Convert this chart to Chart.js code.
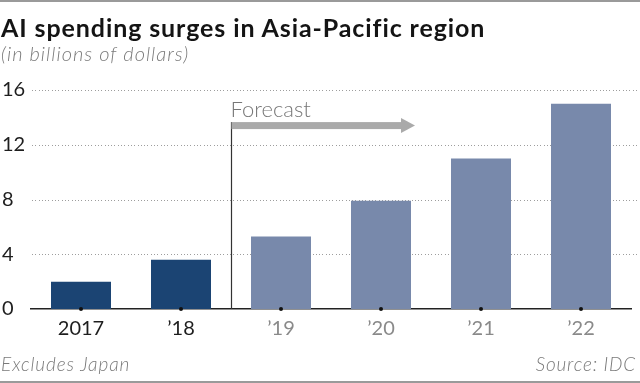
<!DOCTYPE html>
<html><head><meta charset="utf-8">
<script src="https://cdn.jsdelivr.net/npm/chart.js@4"></script>
<style>
html,body{margin:0;padding:0;background:#fff;}
#wrap{position:relative;width:640px;height:383px;overflow:hidden;font-family:Lato,"Open Sans",sans-serif;}
canvas{position:absolute;left:0;top:0;}
.t{position:absolute;white-space:nowrap;line-height:1.2;}
.rule{position:absolute;left:0;width:640px;height:2px;background:#9a9a9a;}
</style></head><body>
<div id="wrap">
<canvas id="c" width="640" height="383"></canvas>
<div class="rule" style="top:0"></div>
<div class="rule" style="top:381px"></div>
<div class="t" style="left:1px;top:11.5px;font-size:25px;letter-spacing:0.9px;font-weight:700;color:#141414">AI spending surges in Asia-Pacific region</div>
<div class="t" style="left:1px;top:41px;font-size:20px;letter-spacing:1px;font-style:italic;font-weight:300;color:#7a7a7a">(in billions of dollars)</div>
<div class="t" style="left:1px;top:353px;font-size:19px;letter-spacing:0.9px;font-style:italic;font-weight:300;color:#7a7a7a">Excludes Japan</div>
<div class="t" style="right:4px;top:353px;font-size:19px;letter-spacing:0.8px;font-style:italic;font-weight:300;color:#7a7a7a">Source: IDC</div>
</div>
<script>
const categories = ['2017', '\u201918', '\u201919', '\u201920', '\u201921', '\u201922'];
const spending = [2.0, 3.6, 5.3, 7.9, 11.0, 15.0];
const yTickValues = [0, 4, 8, 12, 16];
const forecastStartIndex = 2;
const forecastLabel = 'Forecast';

const actualColor = '#1b4473';
const forecastColor = '#7889ab';

const dottedGrid = {
  id: 'dottedGrid',
  beforeDatasetsDraw(chart) {
    const ctx = chart.ctx;
    const y = chart.scales.y;
    const a = chart.chartArea;
    ctx.save();
    ctx.fillStyle = '#9d9d9d';
    yTickValues.forEach(v => {
      if (v === 0) return;
      const py = Math.round(y.getPixelForValue(v));
      for (let px = a.left + 1; px < 637; px += 3.3) {
        ctx.fillRect(Math.round(px), py, 1, 1);
      }
    });
    ctx.restore();
  }
};

const overlay = {
  id: 'overlay',
  afterDatasetsDraw(chart) {
    const ctx = chart.ctx;
    const x = chart.scales.x, y = chart.scales.y;
    const y0 = y.getPixelForValue(0);
    ctx.save();
    ctx.fillStyle = '#111';
    categories.forEach((c, i) => {
      ctx.beginPath();
      ctx.arc(x.getPixelForValue(i), y0, 2, 0, Math.PI * 2);
      ctx.fill();
    });
    const xd = Math.round(x.getPixelForValue(forecastStartIndex - 0.5)) + 0.5;
    const ya = y.getPixelForValue(13.4);
    ctx.strokeStyle = '#333';
    ctx.lineWidth = 1.2;
    ctx.beginPath();
    ctx.moveTo(xd, ya - 3.5);
    ctx.lineTo(xd, y0);
    ctx.stroke();
    const tip = x.getPixelForValue(3.34);
    ctx.fillStyle = '#aaaaaa';
    ctx.fillRect(xd, ya - 3.5, tip - 13 - xd, 7);
    ctx.beginPath();
    ctx.moveTo(tip - 14, ya - 7.5);
    ctx.lineTo(tip, ya);
    ctx.lineTo(tip - 14, ya + 7.5);
    ctx.closePath();
    ctx.fill();
    ctx.fillStyle = '#777';
    ctx.font = '300 22px Lato, sans-serif';
    ctx.textBaseline = 'alphabetic';
    ctx.textAlign = 'left';
    ctx.fillText(forecastLabel, xd - 1, ya - 9);
    ctx.restore();
  }
};

new Chart(document.getElementById('c'), {
  type: 'bar',
  data: {
    labels: categories,
    datasets: [{
      data: spending,
      backgroundColor: spending.map((v, i) => i < forecastStartIndex ? actualColor : forecastColor),
      borderWidth: 0,
      barPercentage: 0.6,
      categoryPercentage: 1.0
    }]
  },
  options: {
    responsive: false,
    animation: false,
    devicePixelRatio: 1,
    layout: { padding: { left: 2, right: 9, top: 90, bottom: 44 } },
    plugins: { legend: { display: false }, tooltip: { enabled: false }, title: { display: false } },
    scales: {
      x: {
        grid: { display: false, drawTicks: false },
        border: { display: true, color: '#222', width: 1.5 },
        ticks: {
          padding: 8,
          font: { family: 'Lato, sans-serif', size: 20 },
          color: (c) => c.index < forecastStartIndex ? '#1e1e1e' : '#8a8a8a'
        },
        afterFit(s) { s.height = 30; }
      },
      y: {
        min: 0, max: 16,
        afterBuildTicks(s) { s.ticks = yTickValues.map(v => ({ value: v })); },
        grid: { display: false, drawTicks: false },
        border: { display: false },
        ticks: {
          crossAlign: 'far',
          padding: 0,
          font: { family: 'Lato, sans-serif', size: 20 },
          color: '#1e1e1e'
        },
        afterFit(s) { s.width = 29; }
      }
    }
  },
  plugins: [dottedGrid, overlay]
});
</script>
</body></html>
